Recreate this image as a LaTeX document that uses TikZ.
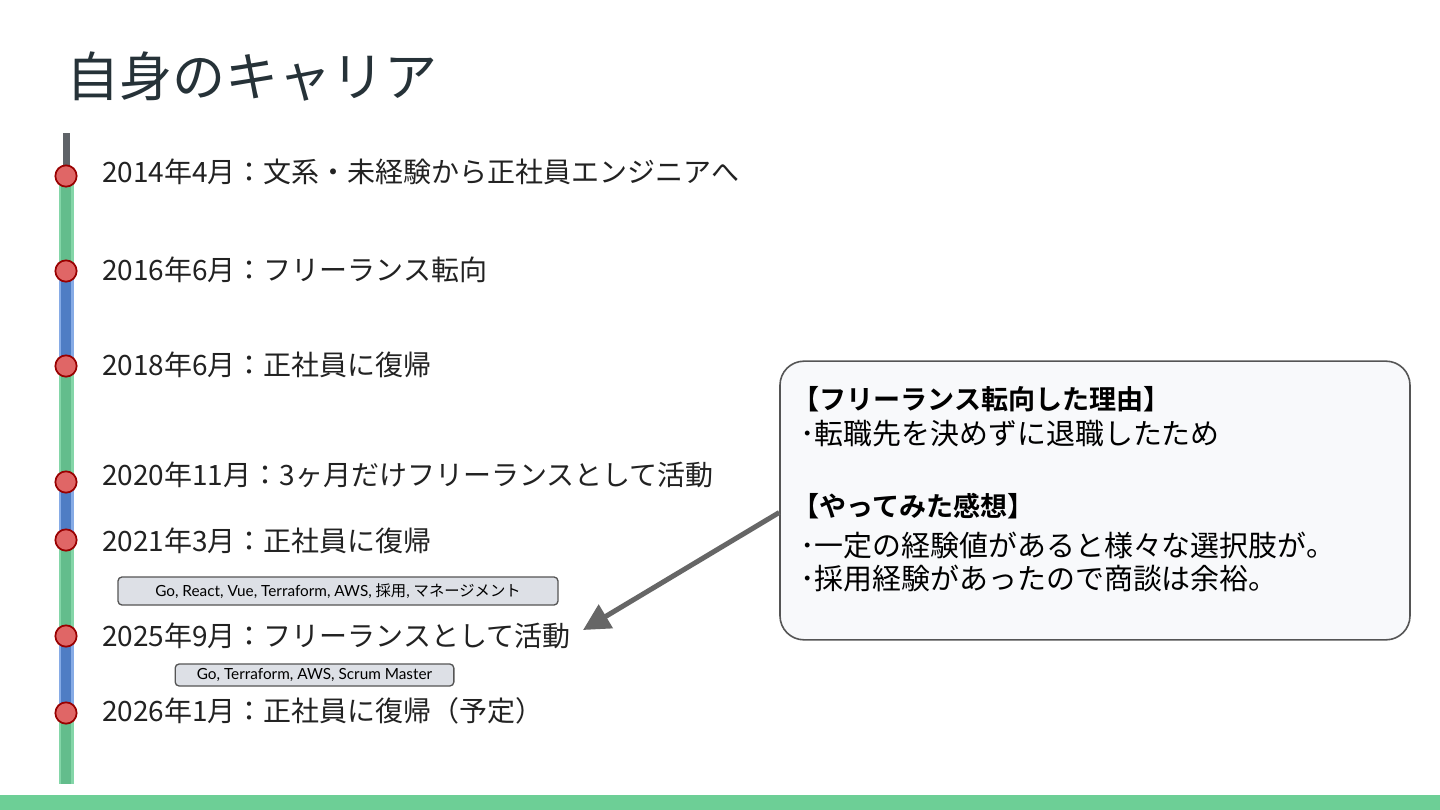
\documentclass[tikz,border=0pt]{standalone}
\usepackage{fontspec}
\setmainfont{Lato}
\newfontfamily\jp{Noto Sans CJK JP}
\newfontfamily\jpb{Noto Sans CJK JP Bold}
\newfontfamily\tagfont{Lato}
\usetikzlibrary{arrows.meta}
\definecolor{titlecol}{HTML}{263238}
\definecolor{textcol}{HTML}{222222}
\definecolor{greenout}{HTML}{84D6A8}
\definecolor{greenin}{HTML}{63BD8C}
\definecolor{blueout}{HTML}{86ABE6}
\definecolor{bluein}{HTML}{4F7DC4}
\definecolor{graybar}{HTML}{5F6368}
\definecolor{dotfill}{HTML}{E06666}
\definecolor{dotdraw}{HTML}{990000}
\definecolor{tagfill}{HTML}{DDE0E6}
\definecolor{tagdraw}{HTML}{555555}
\definecolor{boxfill}{HTML}{F8F9FB}
\definecolor{boxdraw}{HTML}{555555}
\definecolor{arrowcol}{HTML}{666666}
\definecolor{band}{HTML}{6DCF96}
\tikzset{
  segg/.style={line width=11.25pt,draw=greenout},
  seggin/.style={line width=7pt,draw=greenin},
  segb/.style={line width=11.25pt,draw=blueout},
  segbin/.style={line width=7pt,draw=bluein},
  evdot/.style={circle,fill=dotfill,draw=dotdraw,line width=1.3pt,minimum size=16pt,inner sep=0pt},
  evlabel/.style={anchor=west,inner sep=0pt,font=\jp\fontsize{21}{25}\selectfont,text=textcol},
  tagbox/.style={rounded corners=3pt,fill=tagfill,draw=tagdraw,line width=1pt,inner sep=0pt,font=\tagfont\fontsize{11.5}{13}\selectfont,text=black},
  boxline/.style={anchor=west,inner sep=0pt,font=\jp\fontsize{21.7}{26}\selectfont,text=black},
  boxhead/.style={anchor=west,inner sep=0pt,font=\jpb\fontsize{20.3}{24}\selectfont,text=black},
}
\begin{document}
\begin{tikzpicture}[x=0.75pt,y=-0.75pt]
\useasboundingbox (0,0) rectangle (1440,810);
\fill[white] (0,0) rectangle (1440,810);
% bottom band
\fill[band] (0,795) rectangle (1440,810);
% title
\node[anchor=west,inner sep=0pt,font=\jp\fontsize{39.8}{46}\selectfont,text=titlecol] (title) at (66,77) {自身のキャリア};
% timeline bar
\draw[line width=5.25pt,draw=graybar] (66,133) -- (66,176);
\foreach \a/\b/\k in {176/271/g,271/366/b,366/482/g,482/540/b,540/636/g,636/713/b,713/784/g}{
  \draw[seg\k] (66,\a) -- (66,\b);
  \draw[seg\k in] (66,\a) -- (66,\b);
}
% dots
\node[evdot] (d1) at (66,176) {};
\node[evdot] (d2) at (66,271) {};
\node[evdot] (d3) at (66,366) {};
\node[evdot] (d4) at (66,482) {};
\node[evdot] (d5) at (66,540) {};
\node[evdot] (d6) at (66,636) {};
\node[evdot] (d7) at (66,713) {};
% labels
\node[evlabel] (l1) at (102,172) {2014年4月：文系・未経験から正社員エンジニアへ};
\node[evlabel] (l2) at (102,270) {2016年6月：フリーランス転向};
\node[evlabel] (l3) at (102,365) {2018年6月：正社員に復帰};
\node[evlabel] (l4) at (102,475) {2020年11月：3ヶ月だけフリーランスとして活動};
\node[evlabel] (l5) at (102,541) {2021年3月：正社員に復帰};
\node[evlabel] (l6) at (102,636) {2025年9月：フリーランスとして活動};
\node[evlabel] (l7) at (102,711) {2026年1月：正社員に復帰（予定）};
% tags
\node[tagbox,minimum width=330pt,minimum height=21pt] (t1) at (338,591) {Go, React, Vue, Terraform, AWS, {\jp 採用}, {\jp マネージメント}};
\node[tagbox,minimum width=209pt,minimum height=16.5pt] (t2) at (314.5,675) {Go, Terraform, AWS, Scrum Master};
% callout box
\node[draw=boxdraw,fill=boxfill,line width=1.2pt,rounded corners=18pt,minimum width=472.5pt,minimum height=209pt,inner sep=0pt] (box) at (1095,500.5) {};
\node[boxhead] (h1) at (792,399) {【フリーランス転向した理由】};
\node[boxline] (b1) at (800,434) {･転職先を決めずに退職したため};
\node[boxhead] (h2) at (792,506) {【やってみた感想】};
\node[boxline] (b2) at (800,545) {･一定の経験値があると様々な選択肢が。};
\node[boxline] (b3) at (800,578) {･採用経験があったので商談は余裕。};
% arrow
\coordinate (tip) at (583,630);
\draw[arrowcol,line width=3.75pt,-{Triangle[length=20pt,width=20pt]}] ([yshift=-9pt]box.west) -- (tip);
\end{tikzpicture}
\end{document}
